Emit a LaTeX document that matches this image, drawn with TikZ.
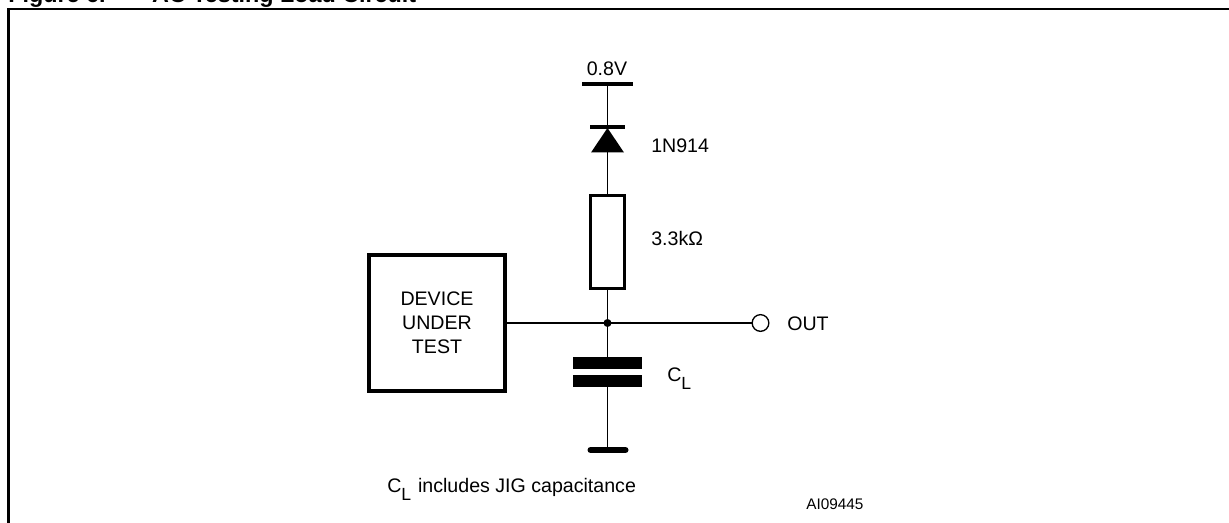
\documentclass[tikz,border=0pt]{standalone}
\usepackage{fontspec}
\setmainfont{Liberation Sans}
\usetikzlibrary{positioning}
\tikzset{
  wire/.style={line width=1pt},
  lbl/.style={inner sep=0pt, anchor=base west, font=\fontsize{14.7pt}{18pt}\selectfont},
  plate/.style={fill=black, inner sep=0pt, minimum width=51.75pt, minimum height=9pt},
  thickbox/.style={draw, line width=3pt, inner sep=0pt, fill=white},
}
\newcommand{\subL}{\raisebox{-0.36em}{\fontsize{13.2pt}{14pt}\selectfont L}}
\begin{document}
\begin{tikzpicture}[x=0.75pt, y=-0.75pt]
\useasboundingbox (0,0) rectangle (1229,523);
% frame and caption
\draw[line width=1.6pt] (8.5,530) -- (8.5,9) -- (1235,9);
\node[inner sep=0pt, anchor=base west, font=\fontsize{17.5pt}{20pt}\selectfont\bfseries] (title) at (8,3) {Figure 6.\hspace{2em}AC Testing Load Circuit};
% parts
\coordinate (vbar) at (607.5,84);
\coordinate (dbar) at (607.5,127);
\coordinate (dtip) at (607.5,128);
\coordinate (dbase) at (607.5,152.5);
\draw[line width=2.4pt] (582,84) -- (633,84);
\draw[line width=2.4pt] (590,127) -- (625,127);
\fill (dtip) -- (591,152.5) -- (624,152.5) -- cycle;
\node[thickbox, line width=2.2pt, minimum width=25.5pt, minimum height=69.75pt] (res) at (607.5,242) {};
\node[thickbox, minimum width=102pt, minimum height=102pt, align=center, font=\fontsize{14.7pt}{18pt}\selectfont] (dut) at (437,323) {DEVICE\\UNDER\\TEST};
\coordinate (junc) at (607.5,323);
\node[circle, draw, wire, inner sep=0pt, minimum size=12.5pt] (out) at (760.5,323) {};
\node[plate] (captop) at (607.5,363) {};
\node[plate] (capbot) at (607.5,381) {};
\coordinate (gnd) at (607.5,450);
% wires
\draw[wire] (vbar) -- (dbar);
\draw[wire] (dbase) -- (res.north);
\draw[wire] (res.south) -- (junc);
\draw[wire] (dut.east) -- (junc) -- (out.west);
\draw[wire] (junc) -- (captop);
\draw[wire] (capbot) -- (gnd);
\fill (junc) circle (3pt);
\draw[line width=4.5pt, line cap=round] (590.5,450) -- (625.5,450);
% labels
\node[lbl, anchor=base] (vlabel) at (607,76) {0.8V};
\node[lbl] (dlabel) at (651,153) {1N914};
\node[lbl] (rlabel) at (651,246) {3.3kΩ};
\node[lbl] (outlabel) at (787,331) {OUT};
\node[lbl] (clabel) at (667,382) {C\subL};
\node[lbl] (note) at (387,493) {C\subL\hspace{0.35em}includes JIG capacitance};
\node[lbl, font=\fontsize{11.5pt}{14pt}\selectfont] (code) at (806,510) {AI09445};
\end{tikzpicture}
\end{document}
